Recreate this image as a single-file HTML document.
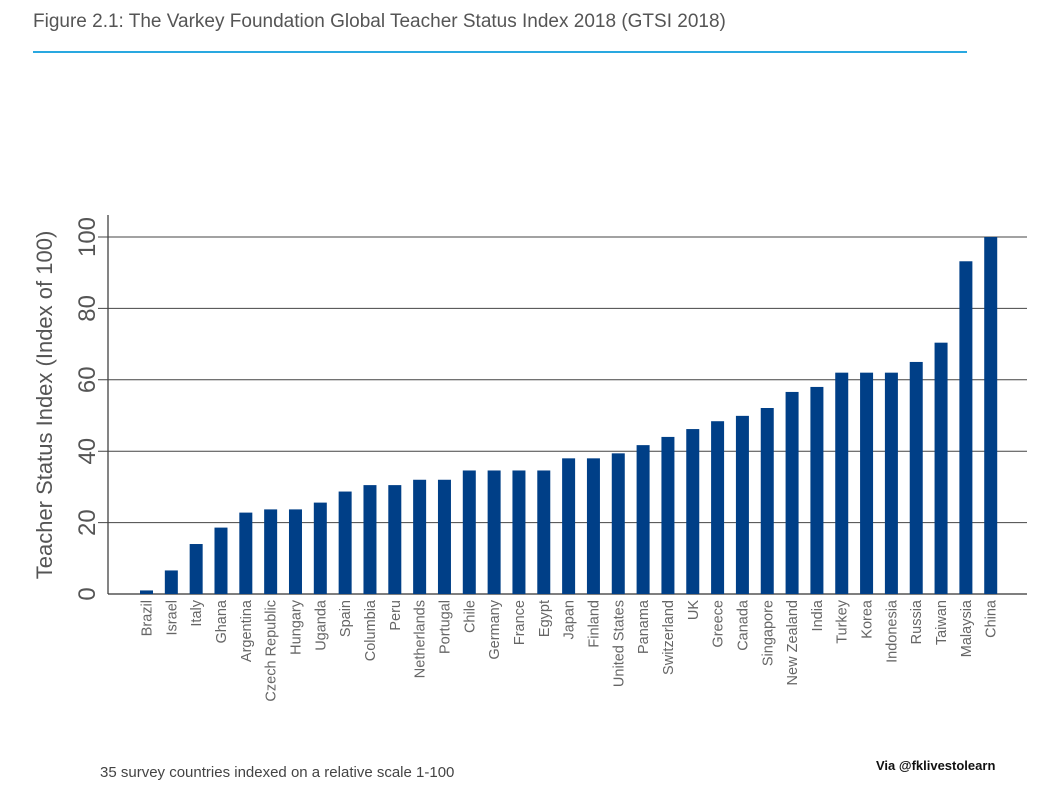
<!DOCTYPE html>
<html><head><meta charset="utf-8"><style>
body{margin:0;background:#fff;width:1043px;height:793px;overflow:hidden;font-family:"Liberation Sans",sans-serif}
</style></head><body>
<svg id="chart" width="1043" height="793" xmlns="http://www.w3.org/2000/svg">
<text x="33" y="27" font-size="19" fill="#555">Figure 2.1: The Varkey Foundation Global Teacher Status Index 2018 (GTSI 2018)</text>
<line x1="33" y1="52" x2="967" y2="52" stroke="#29a8e0" stroke-width="2"/>
<text transform="translate(52,405) rotate(-90)" text-anchor="middle" font-size="22" fill="#555">Teacher Status Index (Index of 100)</text>
<line x1="108" y1="215" x2="108" y2="594" stroke="#333" stroke-width="1.2"/>
<line x1="108" y1="594" x2="1027" y2="594" stroke="#333" stroke-width="1.2"/>
<g id="grid"></g><g id="bars"></g><g id="labels"></g>
<text x="100" y="777" font-size="15" fill="#444">35 survey countries indexed on a relative scale 1-100</text>
<text x="876" y="770" font-size="13" font-weight="bold" fill="#111">Via @fklivestolearn</text>
</svg>
<script>
const categories=["Brazil","Israel","Italy","Ghana","Argentina","Czech Republic","Hungary","Uganda","Spain","Columbia","Peru","Netherlands","Portugal","Chile","Germany","France","Egypt","Japan","Finland","United States","Panama","Switzerland","UK","Greece","Canada","Singapore","New Zealand","India","Turkey","Korea","Indonesia","Russia","Taiwan","Malaysia","China"];
const values=[1,6.6,14,18.6,22.8,23.7,23.7,25.6,28.7,30.5,30.5,32,32,34.6,34.6,34.6,34.6,38,38,39.4,41.7,44,46.2,48.4,49.9,52.1,56.6,58,62,62,62,65,70.4,93.2,100];
const ticks=[0,20,40,60,80,100];
const NS="http://www.w3.org/2000/svg";
const y=v=>594-v*3.57;
const x=i=>146.5+i*24.83;
function mk(t,a,p){const e=document.createElementNS(NS,t);for(const k in a)e.setAttribute(k,a[k]);document.getElementById(p).appendChild(e);return e;}
ticks.forEach(t=>{
  if(t>0){const l=mk("line",{x1:98,x2:1027,y1:y(t),y2:y(t),stroke:"#444","stroke-width":1},"grid");
  
  }
  const tx=mk("text",{transform:`translate(95,${y(t)}) rotate(-90)`,"text-anchor":"middle","font-size":24,fill:"#555"},"grid");
  tx.textContent=t;
  
  
});
categories.forEach((c,i)=>{
  const b=mk("rect",{x:x(i)-6.5,y:y(values[i]),width:13,height:594-y(values[i]),fill:"#003f87"},"bars");
  
  
  const t=mk("text",{transform:`translate(${x(i)+5},600) rotate(-90)`,"text-anchor":"end","font-size":14.5,fill:"#666"},"labels");
  t.textContent=c;
  
  
});
</script>
</body></html>
